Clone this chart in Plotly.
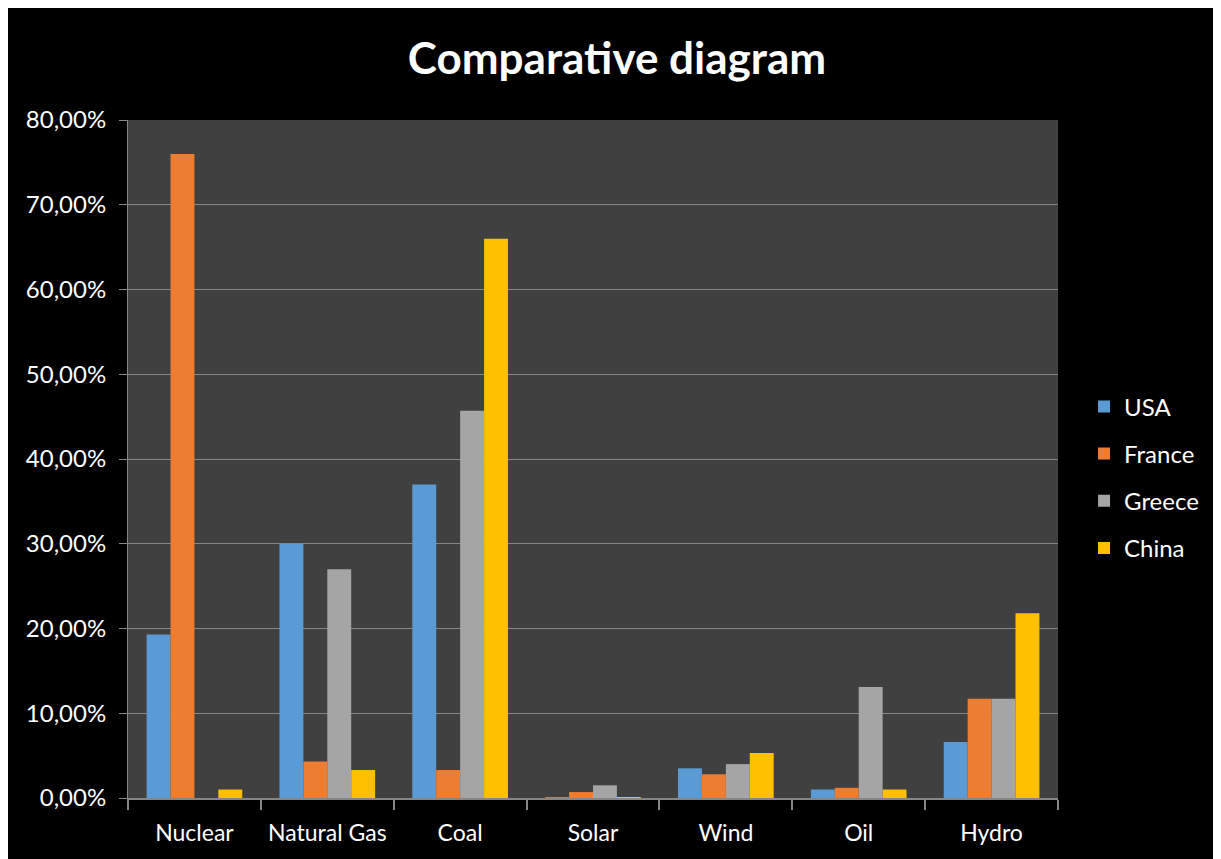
import plotly.graph_objects as go

categories = ["Nuclear", "Natural Gas", "Coal", "Solar", "Wind", "Oil", "Hydro"]
usa    = [0.193, 0.300, 0.370, 0.001, 0.035, 0.010, 0.066]
france = [0.760, 0.043, 0.033, 0.007, 0.028, 0.012, 0.117]
greece = [0.000, 0.270, 0.457, 0.015, 0.040, 0.131, 0.117]
china  = [0.010, 0.033, 0.660, 0.001, 0.053, 0.010, 0.218]

series = [("USA", usa, "#5B9BD5"), ("France", france, "#ED7D31"),
          ("Greece", greece, "#A5A5A5"), ("China", china, "#FFC000")]

fig = go.Figure()
for i, (name, vals, col) in enumerate(series):
    fig.add_trace(go.Bar(x=categories, y=vals, name=name, marker_color=col,
                         marker_line_width=0, legendgroup=name))

font = "Lato, 'Open Sans', sans-serif"
fig.update_layout(
    width=1221, height=859,
    paper_bgcolor="#000000", plot_bgcolor="#404040",
    margin=dict(l=120, r=171, t=112, b=69, autoexpand=False),
    title=dict(text="<b>Comparative diagram</b>", x=609 / 1221, xanchor="center",
               y=1 - 51/859, yanchor="middle",
               font=dict(family=font, size=44, color="white")),
    barmode="group", bargap=0.28, bargroupgap=0,
    separators=",.",
    showlegend=True,
    legend=dict(x=1.028, y=0.473, xanchor="left", yanchor="middle",
                font=dict(family=font, size=24, color="white"),
                tracegroupgap=13, bgcolor="rgba(0,0,0,0)"),
    font=dict(family=font, color="white"),
)
fig.update_xaxes(showline=True, linecolor="#868686", linewidth=2,
                 ticks="outside", tickson="boundaries", ticklen=10,
                 tickcolor="#868686", tickwidth=2, tickangle=0,
                 ticklabelstandoff=13, automargin=False,
                 tickfont=dict(family=font, size=23, color="white"),
                 showgrid=False)
fig.update_yaxes(range=[0, 0.8], dtick=0.1, tickformat=".2%",
                 showline=True, linecolor="#868686", linewidth=1,
                 ticks="outside", ticklen=8, tickcolor="#868686",
                 ticklabelstandoff=8, automargin=False,
                 gridcolor="#868686", gridwidth=1, zeroline=False,
                 tickfont=dict(family=font, size=24, color="white"))

fig.write_html("out.html")
